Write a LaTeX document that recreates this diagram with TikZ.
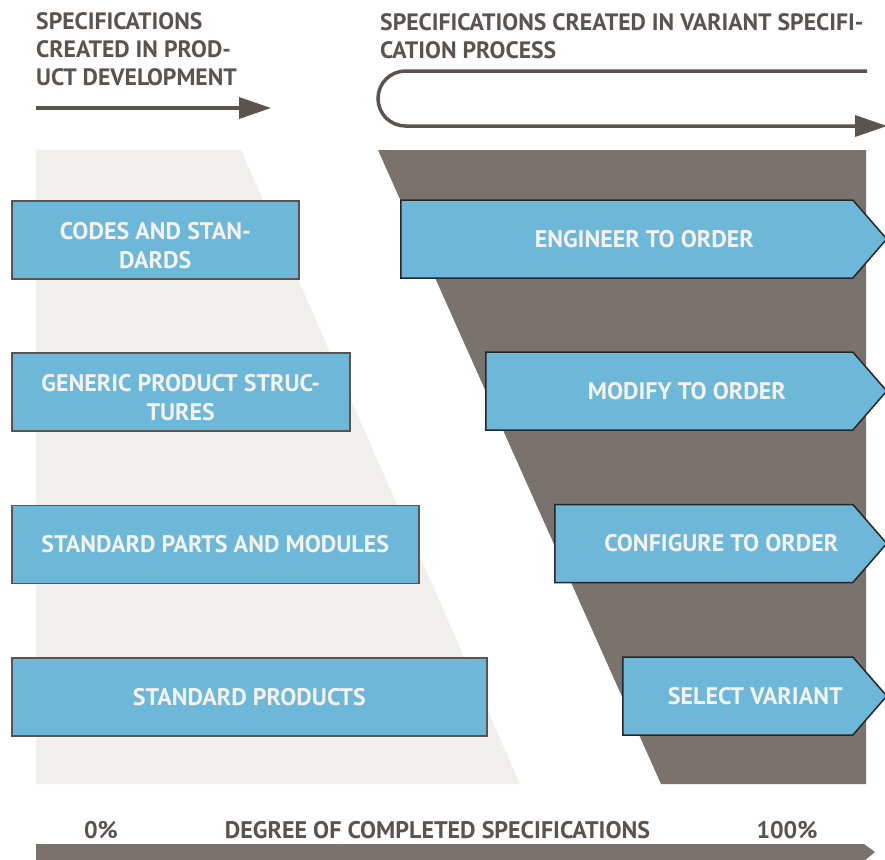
\documentclass[tikz,border=0pt]{standalone}
\usepackage{fontspec}
\setmainfont{PT Sans}
\usetikzlibrary{shapes.symbols,arrows.meta}
\definecolor{boxblue}{HTML}{6DB7D8}
\definecolor{darkgrey}{HTML}{7A726D}
\definecolor{lightgrey}{HTML}{F0EFEB}
\definecolor{textgrey}{HTML}{5B534F}
\definecolor{boxtext}{HTML}{F4F2EE}
\tikzset{
	head/.style = {text = textgrey, font = \fontsize{23.7}{28}\selectfont\bfseries, align = left, anchor = north west, inner sep = 0pt},
	axislabel/.style = {text = textgrey, font = \fontsize{24}{28}\selectfont\bfseries, anchor = base, inner sep = 0pt},
	spec/.style = {draw = textgrey, line width = 1.5pt, fill = boxblue, text = boxtext, font = \fontsize{24}{29}\selectfont\bfseries, align = center, anchor = north west, minimum height = 78pt, inner sep = 0pt},
	speclabel/.style = {text = boxtext, font = \fontsize{24}{29}\selectfont\bfseries, align = center, inner sep = 0pt, yshift = -6pt},
	variant/.style = {signal, signal to = east, signal pointer angle = 98, draw = black!85, line width = 1.5pt, fill = boxblue, text = boxtext, font = \fontsize{24}{29}\selectfont\bfseries, minimum height = 78pt, anchor = west, inner sep = 0pt, execute at begin node = \hspace*{35pt}},
	flow/.style = {draw = textgrey, line width = 3.5pt, -{Triangle[length = 32pt, width = 21pt]}}
}
\begin{document}
\begin{tikzpicture}[x = 1pt, y = -1pt]
	\clip (0,0) rectangle (885,859);
	\fill[color = white] (0,0) rectangle (885,859);
	\fill[color = lightgrey] (36,150) -- (241,150) -- (520,784) -- (36,784) -- cycle;
	\fill[color = darkgrey] (378,150) -- (866,150) -- (866,784) -- (661,784) -- cycle;
	\node[head] (pdhead) at (36,12) {SPECIFICATIONS\\CREATED IN PROD-\\UCT DEVELOPMENT};
	\node[head] (vshead) at (380,13) {SPECIFICATIONS CREATED IN VARIANT SPECIFI-\\CATION PROCESS};
	\coordinate (pdstart) at (36,108);
	\coordinate (pdend) at (271,108);
	\draw[flow] (pdstart) -- (pdend);
	\coordinate (vsstart) at (867,71);
	\coordinate (vsend) at (887,126);
	\draw[flow] (vsstart) -- (405.5,71) arc[start angle = 90, end angle = 270, radius = 27.5pt] -- (vsend);
	\node[spec, minimum width = 287pt, label = {[speclabel]center:CODES AND STAN-\\DARDS}] (codes) at (11,200) {};
	\node[spec, minimum width = 338pt, label = {[speclabel]center:GENERIC PRODUCT STRUC-\\TURES}] (generic) at (11,352) {};
	\node[spec, minimum width = 407pt] (parts) at (11,504.5) {STANDARD PARTS AND MODULES};
	\node[spec, minimum width = 475pt] (products) at (11,657) {STANDARD PRODUCTS};
	\node[variant, minimum width = 486pt] (eto) at (400,239) {ENGINEER TO ORDER};
	\node[variant, minimum width = 401pt] (mto) at (485,391) {MODIFY TO ORDER};
	\node[variant, minimum width = 332pt] (cto) at (554,543.5) {CONFIGURE TO ORDER};
	\node[variant, minimum width = 264pt] (sv) at (622,696) {SELECT VARIANT};
	\node[axislabel] (zero) at (101,838) {0\%};
	\node[axislabel] (degree) at (437.5,838) {DEGREE OF COMPLETED SPECIFICATIONS};
	\node[axislabel] (full) at (787,838) {100\%};
	\fill[color = darkgrey] (36,844) -- (864,844) -- (875,852) -- (864,861) -- (36,861) -- cycle;
\end{tikzpicture}
\end{document}
